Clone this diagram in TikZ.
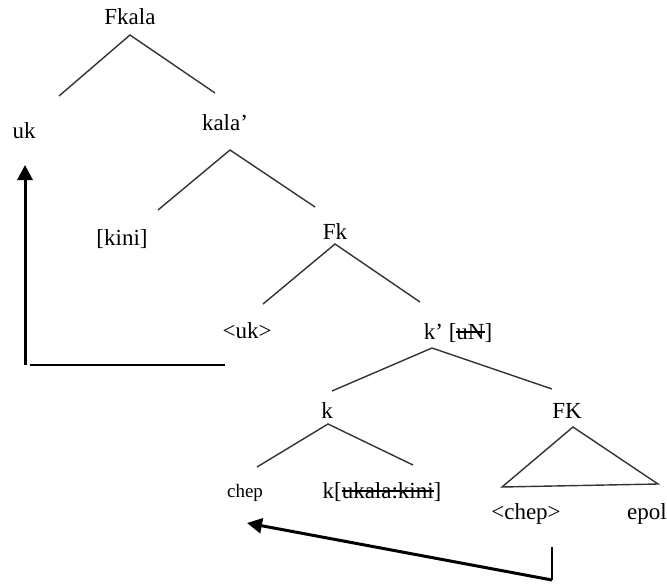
\documentclass[tikz,border=0pt]{standalone}
\usepackage{fontspec}
\setmainfont{Liberation Serif}
\usetikzlibrary{arrows.meta}
\newsavebox{\strkbox}
\newcommand{\strk}[1]{\sbox{\strkbox}{#1}\rlap{\raisebox{0.27em}{\rule{\wd\strkbox}{0.06em}}}\usebox{\strkbox}}
\begin{document}
\begin{tikzpicture}[x=0.5pt,y=-0.5pt,
  lbl/.style={anchor=base, inner sep=0pt, font=\fontsize{11.5}{13}\selectfont},
  smalllbl/.style={lbl, font=\fontsize{9.5}{11}\selectfont},
  branch/.style={line width=0.7pt, draw=black!80},
  thinline/.style={line width=0.7pt, draw=black},
  movearrow/.style={line width=1.5pt, draw=black, -{Triangle[length=7.5pt,width=7.5pt]}}]
\useasboundingbox (0,0) rectangle (667,583);
% labels
\node[lbl] (Fkala) at (130,25) {Fkala};
\node[lbl] (uk) at (24,138) {uk};
\node[lbl] (kala) at (225,130) {kala’};
\node[lbl] (kini) at (122,245) {[kini]};
\node[lbl] (Fk) at (335,239) {Fk};
\node[lbl] (ukt) at (247,338) {<uk>};
\node[lbl] (kbar) at (458,339) {k’ [\strk{uN}]};
\node[lbl] (k) at (327,418) {k};
\node[lbl] (FK) at (567,418) {FK};
\node[smalllbl] (chep) at (245,497) {chep};
\node[lbl] (kfeat) at (382,498) {k[\strk{ukala:kini}]};
\node[lbl] (chept) at (526,519) {<chep>};
\node[lbl] (epol) at (647,519) {epol};
% branch points
\coordinate (aFkala) at (130,35);
\coordinate (eFkalaL) at (59,96);
\coordinate (eFkalaR) at (215,93);
\coordinate (akala) at (230,150);
\coordinate (ekalaL) at (158,210);
\coordinate (ekalaR) at (315,207);
\coordinate (aFk) at (335,244);
\coordinate (eFkL) at (263,304);
\coordinate (eFkR) at (420,302);
\coordinate (akbar) at (432,348);
\coordinate (ekbarL) at (332,391);
\coordinate (ekbarR) at (552,389);
\coordinate (ak) at (328,424);
\coordinate (ekL) at (257,467);
\coordinate (ekR) at (413,465);
\coordinate (tFK) at (573,427);
\coordinate (tFKL) at (502,487);
\coordinate (tFKR) at (658,484);
% movement path points
\coordinate (m1start) at (25,365);
\coordinate (m1tip) at (25,165);
\coordinate (m1hl) at (30,365);
\coordinate (m1hr) at (225,365);
\coordinate (m2top) at (552,547);
\coordinate (m2bot) at (552,580);
\coordinate (m2tip) at (247,523);
% tree branches
\draw[branch] (eFkalaL) -- (aFkala) -- (eFkalaR);
\draw[branch] (ekalaL) -- (akala) -- (ekalaR);
\draw[branch] (eFkL) -- (aFk) -- (eFkR);
\draw[branch] (ekbarL) -- (akbar) -- (ekbarR);
\draw[branch] (ekL) -- (ak) -- (ekR);
\draw[branch] (tFK) -- (tFKL) -- (tFKR) -- cycle;
% movement
\draw[thinline] (m1hl) -- (m1hr);
\draw[movearrow] (m1start) -- (m1tip);
\draw[thinline] (m2top) -- (m2bot);
\draw[movearrow] (m2bot) -- (m2tip);
\end{tikzpicture}
\end{document}
